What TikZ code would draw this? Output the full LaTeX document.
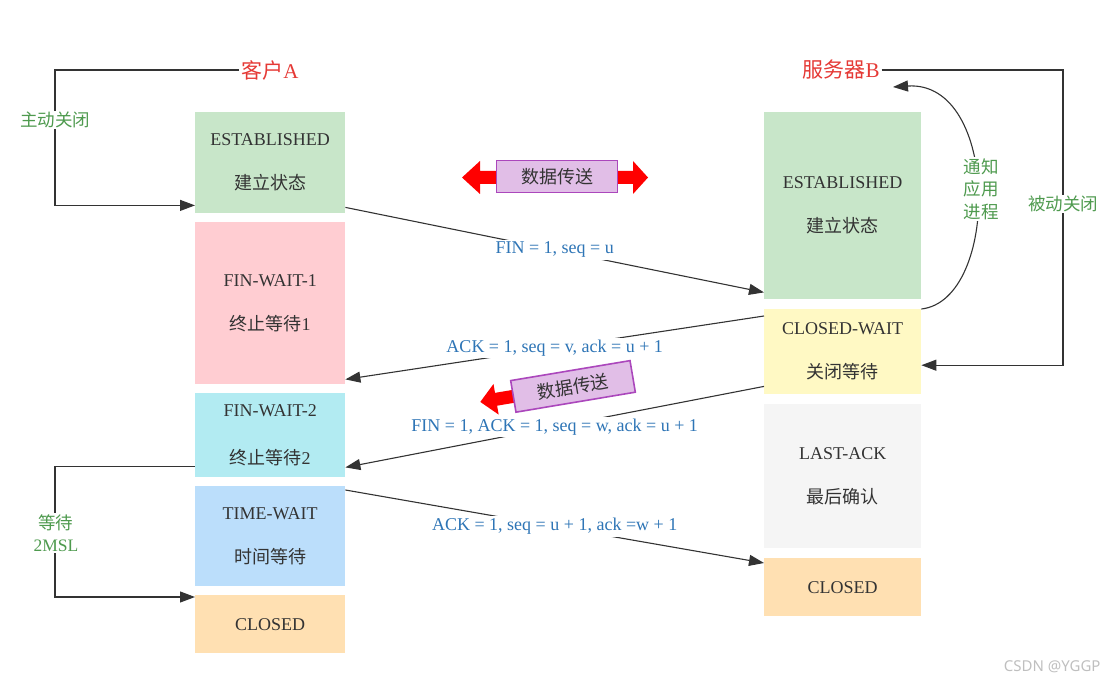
\documentclass[tikz,border=0pt]{standalone}
\usepackage{fontspec}
\setmainfont{Liberation Serif}
\newfontfamily\cjk{Noto Sans CJK SC}
\newfontfamily\wmfont{Noto Sans}
\usetikzlibrary{arrows.meta,calc}
\definecolor{cgreen}{HTML}{C8E6C9}
\definecolor{cpink}{HTML}{FFCDD2}
\definecolor{ccyan}{HTML}{B2EBF2}
\definecolor{cblue}{HTML}{BBDEFB}
\definecolor{corange}{HTML}{FFE0B2}
\definecolor{cyellow}{HTML}{FFF9C4}
\definecolor{cgray}{HTML}{F5F5F5}
\definecolor{txt}{HTML}{333333}
\definecolor{ttlred}{HTML}{E53935}
\definecolor{lblue}{HTML}{2E75B6}
\definecolor{lgreen}{HTML}{4E9A4E}
\definecolor{pfill}{HTML}{E1BEE7}
\definecolor{pdraw}{HTML}{AB47BC}
\definecolor{lineC}{HTML}{333333}
\tikzset{
  statebox/.style={draw=none, anchor=north west, align=center, text=txt,
    inner sep=0pt, font=\fontsize{18}{44}\selectfont},
  ttl/.style={text=ttlred, font=\fontsize{21}{24}\selectfont, inner sep=2pt},
  msg/.style={text=lblue, fill=white, inner sep=2pt, font=\fontsize{18}{20}\selectfont},
  glabel/.style={text=lgreen, fill=white, inner sep=1pt, align=center,
    font=\fontsize{17.5}{22.5}\selectfont},
  conn/.style={draw=lineC, line width=1.1pt, -{Triangle[length=15pt,width=11pt]}},
  databox/.style={fill=pfill, draw=pdraw, line width=1.6pt, minimum width=121pt,
    minimum height=32pt, inner sep=0pt, text=txt, font=\fontsize{18}{20}\selectfont\cjk},
  redarrow/.style={fill=red, draw=none}
}
\begin{document}
\begin{tikzpicture}[x=1pt,y=-1pt]
\useasboundingbox (0,0) rectangle (1108,687);

% titles
\node[ttl] (titleA) at (270,70) {{\cjk 客户}A};
\node[ttl] (titleB) at (841,70) {{\cjk 服务器}B};

% left column
\node[statebox, fill=cgreen, minimum width=150pt, minimum height=101pt] (eA) at (195,112)
  {ESTABLISHED\\{\cjk 建立状态}};
\node[statebox, fill=cpink, minimum width=150pt, minimum height=162pt] (fw1) at (195,222)
  {FIN-WAIT-1\\{\cjk 终止等待}1};
\node[statebox, fill=ccyan, minimum width=150pt, minimum height=84pt,
  font=\fontsize{18}{48}\selectfont] (fw2) at (195,393)
  {FIN-WAIT-2\\{\cjk 终止等待}2};
\node[statebox, fill=cblue, minimum width=150pt, minimum height=100pt] (tw) at (195,486)
  {TIME-WAIT\\{\cjk 时间等待}};
\node[statebox, fill=corange, minimum width=150pt, minimum height=58pt] (clA) at (195,595)
  {CLOSED};

% right column
\node[statebox, fill=cgreen, minimum width=157pt, minimum height=187pt] (eB) at (764,112)
  {ESTABLISHED\\{\cjk 建立状态}};
\node[statebox, fill=cyellow, minimum width=157pt, minimum height=85pt] (cwB) at (764,309)
  {CLOSED-WAIT\\{\cjk 关闭等待}};
\node[statebox, fill=cgray, minimum width=157pt, minimum height=144pt] (laB) at (764,404)
  {LAST-ACK\\{\cjk 最后确认}};
\node[statebox, fill=corange, minimum width=157pt, minimum height=58pt] (clB) at (764,558)
  {CLOSED};

% data transfer (top)
\fill[redarrow] (496,171) -- (480,171) -- (480,161) -- (462,177.5) -- (480,194) -- (480,184) -- (496,184) -- cycle;
\fill[redarrow] (617,171) -- (633,171) -- (633,161) -- (648,177.5) -- (633,194) -- (633,184) -- (617,184) -- cycle;
\node[databox] (d1) at (557,176.5) {数据传送};

% data transfer (rotated)
\begin{scope}[shift={(573,386.4)}, rotate=9.5]
  \fill[redarrow] (-58,-6.5) -- (-78,-6.5) -- (-78,-15.5) -- (-94,0) -- (-78,15.5) -- (-78,6.5) -- (-58,6.5) -- cycle;
\end{scope}
\node[databox, rotate=9.5] (d2) at (573,386.4) {数据传送};

% messages
\draw[conn] ([yshift=6pt]eA.south east) -- ([yshift=7pt]eB.south west)
  node[msg, midway] {FIN = 1, seq = u};
\draw[conn] ([yshift=-7pt]cwB.north west) -- ([yshift=5pt]fw1.south east)
  node[msg, midway] {ACK = 1, seq = v, ack = u + 1};
\draw[conn] ([yshift=8pt]cwB.south west) -- ([yshift=10pt]fw2.south east)
  node[msg, midway] {FIN = 1, ACK = 1, seq = w, ack = u + 1};
\draw[conn] ([yshift=-4pt]tw.north east) -- ([yshift=-5pt]clB.north west)
  node[msg, midway] {ACK = 1, seq = u + 1, ack =w + 1};

% active close loop
\draw[conn] (titleA.west) -| (55,140) |- ([yshift=8pt]eA.south west);
\node[glabel, font=\fontsize{17.5}{22.5}\selectfont\cjk] (lac) at (55,120) {主动关闭};

% passive close loop
\draw[conn] (titleB.east) -| (1063,200) |- ([yshift=-13.5pt]cwB.east);
\node[glabel, font=\fontsize{17.5}{22.5}\selectfont\cjk] (lpc) at (1063,204) {被动关闭};

% notify curve
\coordinate (nt) at (893,87);
\draw[conn] (cwB.north east) .. controls (1000,300) and (1000,80) .. (nt);
\node[glabel, font=\fontsize{17.5}{22.5}\selectfont\cjk] (lnt) at (981,189) {通知\\应用\\进程};

% wait 2MSL
\draw[conn] ([yshift=11pt]fw2.south west) -| (55,530) |- ([yshift=-2pt]clA.north west);
\node[glabel] (lw) at (56,533) {{\cjk 等待}\\2MSL};

% watermark
\node[text=black!25, font=\fontsize{15}{18}\selectfont\wmfont, anchor=east] (wm) at (1104,667) {CSDN @YGGP};
\end{tikzpicture}
\end{document}
